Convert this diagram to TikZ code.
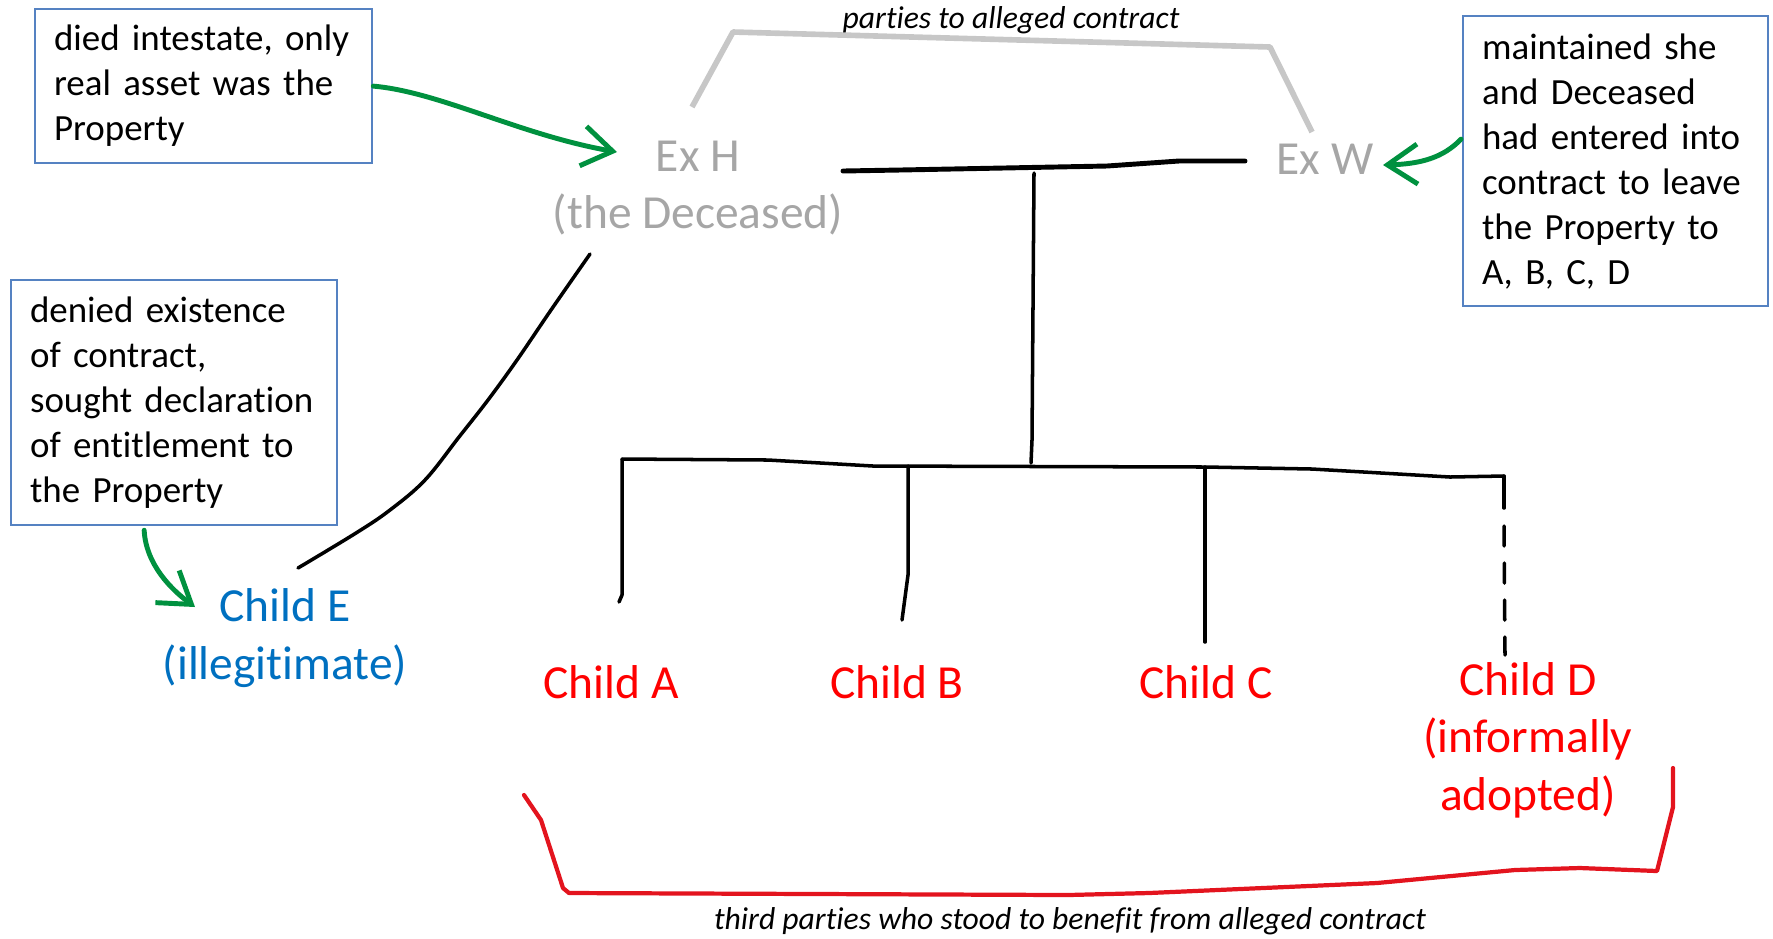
\documentclass[tikz,border=0pt]{standalone}
\usepackage{fontspec}
\setmainfont{Carlito}[Ligatures=NoCommon]
\usepackage{xcolor}
\usepackage{tikz}
\usetikzlibrary{arrows.meta, calc}

\definecolor{boxblue}{HTML}{5582C2}
\definecolor{arrgreen}{HTML}{00913F}
\definecolor{kidred}{HTML}{FF0000}
\definecolor{bracered}{HTML}{E3141E}
\definecolor{exgray}{HTML}{A6A6A6}
\definecolor{eblue}{HTML}{0070C0}

\begin{document}
\begin{tikzpicture}[x=0.01cm, y=-0.01cm,
        notebox/.style={rectangle, draw=boxblue, line width=0.6pt, anchor=north west, inner xsep=0.19cm, inner ysep=0pt, align=left, font=\fontsize{10.5}{12.8}\selectfont},
        party/.style={align=center, font=\fontsize{13.5}{16.3}\selectfont, text=exgray},
        kid/.style={align=center, font=\fontsize{13.5}{16.3}\selectfont, text=kidred},
        tagline/.style={font=\fontsize{9}{11}\selectfont\itshape},
        famline/.style={line width=1pt, line cap=round, line join=round},
        arrowline/.style={-{Straight Barb[length=3mm, width=4mm]}, arrgreen, line width=1.4pt, line cap=round},
        bracket/.style={bracered, line width=1.2pt, line join=round, line cap=round}
    ]
        \useasboundingbox (0,0) rectangle (1773,938);
        % notes
        \node[notebox, text width=2.99cm, minimum height=1.54cm] (intestate) at (34,8) {died intestate, only\\real asset was the\\Property};
        \node[notebox, text width=2.67cm, minimum height=2.90cm] (maintained) at (1462,15) {maintained she\\and Deceased\\had entered into\\contract to leave\\the Property to\\A, B, C, D};
        \node[notebox, text width=2.88cm, minimum height=2.45cm] (denied) at (10,279) {denied existence\\of contract,\\sought declaration\\of entitlement to\\the Property};
        % people
        \node[party] (exh) at (698,188) {Ex H\\(the Deceased)};
        \node[party] (exw) at (1325,159) {Ex W};
        \node[party, text=eblue] (childE) at (285,638) {Child E\\(illegitimate)};
        \node[kid] (childA) at (611,682) {Child A};
        \node[kid] (childB) at (897,682) {Child B};
        \node[kid] (childC) at (1206,682) {Child C};
        \node[kid] (childD) at (1528,740) {Child D\\(informally\\adopted)};
        \node[tagline] (partiestag) at (1011,20) {parties to alleged contract};
        \node[tagline] (thirdtag) at (1070,921) {third parties who stood to benefit from alleged contract};
        % family tree
        \coordinate (marL) at (843,171);
        \coordinate (marR) at (1245,161);
        \coordinate (trunkTop) at (1034,173);
        \coordinate (trunkEnd) at (1031,463);
        \coordinate (sibL) at (622,459);
        \coordinate (sibR) at (1504,476);
        \coordinate (dropA) at (619,602);
        \coordinate (dropB) at (902,620);
        \coordinate (dropC) at (1205,642);
        \coordinate (dropD) at (1505,655);
        \draw[famline, line width=1.4pt] (marL) -- (900,170) -- (1107,166) -- (1179,161) -- (marR);
        \draw[famline] (trunkTop) -- (1032,440) -- (trunkEnd);
        \draw[famline] (sibL) -- (768,460) -- (873,466) -- (1206,467) -- (1312,469) -- (1450,477) -- (sibR);
        \draw[famline] (sibL) -- (622,595) -- (dropA);
        \draw[famline] (908,466) -- (908,575) -- (dropB);
        \draw[famline] (1205,467) -- (dropC);
        \draw[famline] (sibR) -- (1504,508);
        \draw[famline, dash pattern=on 0.2cm off 0.17cm] (1504,526) -- (dropD);
        % deceased to child E
        \coordinate (exhLow) at (590,254);
        \coordinate (eTop) at (298,568);
        \draw[famline] plot[smooth, tension=0.6] coordinates {(exhLow) (551,310) (517,360) (488,400) (459,437) (425,480) (390,510) (356,533) (eTop)};
        % brackets
        \draw[black!22, line width=1.6pt, line join=round] (692,107) -- (733,32) -- (1270,47) -- (1312,132);
        \draw[bracket] (524,795) -- (541,820) -- (563,888) -- (569,893) -- (1068,895) -- (1149,893) -- (1377,883) -- (1515,870) -- (1580,868) -- (1657,871) -- (1673,807) -- (1673,768);
        % green arrows
        \coordinate (exhTip) at (617,152);
        \coordinate (exwTip) at (1383,165);
        \coordinate (eTip) at (195,607);
        \draw[arrowline] (intestate.east) .. controls (440,92) and (520,135) .. (exhTip);
        \draw[arrowline] ($(maintained.west)+(-1,-22)$) .. controls (1443,158) and (1420,164) .. (exwTip);
        \draw[arrowline] ($(denied.south)+(-30,4)$) .. controls (146,565) and (172,590) .. (eTip);
    \end{tikzpicture}
\end{document}
